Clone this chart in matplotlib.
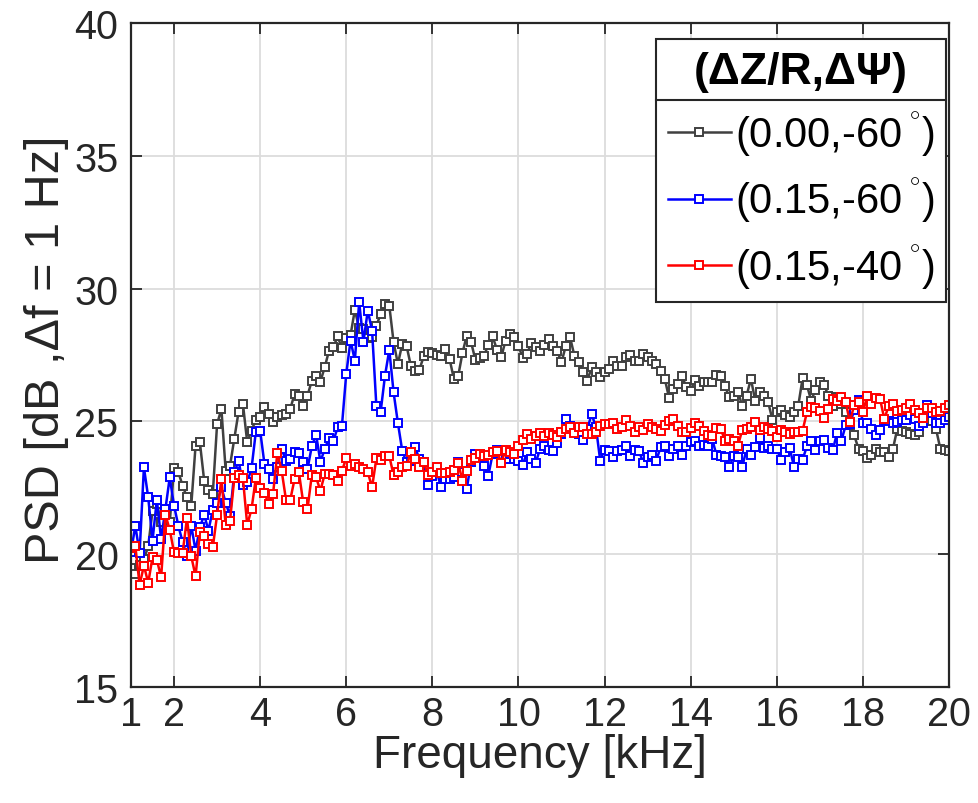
import numpy as np
import matplotlib
matplotlib.use("Agg")
import matplotlib.pyplot as plt
from matplotlib.lines import Line2D

plt.rcParams['font.family'] = ['Liberation Sans', 'DejaVu Sans']
plt.rcParams['mathtext.fontset'] = 'custom'
plt.rcParams['mathtext.rm'] = 'Liberation Sans'

# frequency grid, 0.1 kHz step from 1 to 20 kHz
freq_khz = np.round(np.arange(1.0, 20.05, 0.1), 1)

# (0.00,-60 deg)
psd_000_60 = [
    19.47, 19.25, 19.6, 19.8, 20.3, 21.64, 21.9, 21.2, 21.6, 21.2,
    23.23, 23.08, 22.58, 22.14, 21.83, 24.09, 24.21, 22.77, 22.43, 22.27,
    24.9, 25.47, 23.14, 23.33, 24.34, 25.37, 25.66, 24.21, 24.65, 25.07,
    25.15, 25.53, 25.28, 24.99, 25.15, 25.24, 25.28, 25.47, 26.03, 25.94,
    25.57, 25.97, 26.53, 26.72, 26.5, 27.04, 27.66, 27.79, 28.2, 27.75,
    28.13, 28.25, 29.2, 28.5, 28.48, 28.13, 28.17, 28.6, 29.04, 29.42,
    29.36, 27.98, 27.16, 27.91, 27.85, 27.1, 26.91, 26.95, 27.45, 27.6,
    27.58, 27.5, 27.45, 27.73, 27.35, 26.6, 26.7, 27.58, 28.23, 27.98,
    27.32, 27.37, 27.47, 27.88, 28.2, 27.7, 27.41, 28.04, 28.29, 28.16,
    27.85, 27.38, 27.55, 27.95, 27.79, 27.66, 27.88, 28.1, 27.83, 27.66,
    27.22, 27.85, 28.16, 27.47, 27.22, 26.87, 26.53, 27.04, 26.85, 26.66,
    26.85, 26.97, 27.29, 27.1, 27.1, 27.41, 27.5, 27.29, 27.29, 27.54,
    27.41, 27.29, 27.16, 26.91, 26.6, 25.87, 26.22, 26.41, 26.72, 26.28,
    26.16, 26.57, 26.35, 26.47, 26.5, 26.47, 26.75, 26.72, 26.32, 25.9,
    25.97, 26.12, 25.57, 25.97, 26.6, 25.78, 26.1, 25.97, 25.72, 25.07,
    25.34, 25.44, 25.24, 25.15, 25.36, 25.59, 26.62, 26.37, 25.78, 26.19,
    26.47, 26.37, 25.97, 25.59, 25.91, 25.66, 25.35, 24.85, 24.47, 23.97,
    23.88, 23.63, 23.72, 23.97, 23.84, 23.84, 23.67, 23.97, 24.72, 24.63,
    24.59, 24.53, 24.47, 24.59, 25.12, 25.09, 25.0, 24.71, 23.97, 23.93,
    23.9,
]

# (0.15,-60 deg)
psd_015_60 = [
    20.07, 21.07, 20.05, 23.27, 22.14, 20.51, 22.05, 20.57, 21.7, 22.89,
    21.83, 21.07, 20.45, 19.94, 21.07, 20.13, 21.01, 21.48, 20.89, 21.68,
    21.93, 22.52, 21.93, 21.45, 23.08, 23.52, 22.61, 22.71, 23.23, 24.61,
    24.65, 23.4, 23.21, 22.83, 23.3, 23.96, 23.52, 23.58, 23.86, 23.81,
    23.46, 23.21, 24.06, 24.5, 23.48, 23.96, 24.37, 24.25, 24.78, 24.83,
    26.79, 28.04, 27.29, 29.48, 28.0, 29.17, 28.42, 25.57, 25.37, 26.72,
    27.69, 26.09, 24.94, 23.9, 23.46, 23.52, 24.02, 23.58, 23.48, 22.61,
    22.96, 23.14, 22.52, 22.83, 22.83, 22.89, 23.46, 23.08, 22.46, 23.48,
    23.77, 23.71, 23.33, 22.96, 23.77, 23.94, 23.65, 23.58, 23.77, 23.58,
    23.52, 23.36, 23.84, 23.58, 23.43, 23.96, 24.06, 23.94, 23.9, 24.19,
    24.53, 25.09, 24.81, 24.71, 24.53, 24.31, 24.71, 25.28, 24.78, 23.52,
    23.94, 23.9, 23.65, 23.9, 23.94, 24.09, 23.71, 23.94, 23.9, 23.43,
    23.65, 23.73, 23.52, 24.02, 24.09, 23.69, 23.96, 24.06, 23.73, 24.09,
    24.24, 24.27, 24.09, 24.11, 24.09, 24.34, 23.73, 23.71, 23.65, 23.28,
    23.71, 23.65, 23.3, 23.96, 23.73, 24.02, 24.37, 24.0, 24.09, 23.96,
    23.97, 23.56, 23.84, 24.0, 23.3, 23.59, 23.56, 24.06, 24.26, 23.91,
    24.26, 24.31, 24.0, 23.91, 24.56, 24.26, 24.85, 24.89, 25.44, 25.82,
    24.94, 24.94, 24.72, 24.47, 24.69, 25.07, 25.02, 24.94, 24.98, 25.07,
    25.07, 25.24, 25.09, 24.84, 24.94, 25.6, 25.31, 24.94, 24.94, 25.07,
    25.15,
]

# (0.15,-40 deg)
psd_015_40 = [
    20.22, 20.32, 18.84, 19.57, 18.92, 19.88, 19.79, 19.13, 21.48, 20.92,
    20.07, 20.05, 20.05, 21.35, 19.92, 19.17, 20.82, 20.7, 20.38, 20.26,
    21.48, 22.83, 21.1, 21.26, 22.86, 22.98, 22.86, 21.1, 21.7, 22.86,
    22.5, 22.3, 21.89, 22.27, 23.81, 23.14, 22.05, 22.05, 22.83, 23.08,
    21.95, 21.7, 22.98, 22.89, 22.39, 23.02, 23.02, 22.98, 22.77, 23.14,
    23.61, 23.31, 23.4, 23.27, 23.21, 23.08, 22.52, 23.61, 23.56, 23.71,
    23.69, 22.98, 23.08, 23.27, 23.31, 23.84, 23.58, 23.27, 23.48, 22.98,
    23.08, 23.27, 23.06, 23.06, 23.08, 23.18, 23.43, 22.77, 23.14, 23.56,
    23.61, 23.77, 23.69, 23.73, 23.84, 23.9, 23.43, 23.93, 23.86, 23.77,
    24.09, 24.31, 24.53, 24.34, 24.44, 24.56, 24.44, 24.56, 24.49, 24.4,
    24.59, 24.71, 24.78, 24.56, 24.78, 24.78, 24.53, 24.53, 24.61, 24.84,
    24.9, 24.9, 24.94, 24.71, 24.78, 25.07, 24.81, 24.61, 24.78, 24.69,
    24.9, 24.78, 24.71, 24.65, 24.86, 25.03, 25.09, 24.81, 24.61, 24.61,
    24.74, 24.94, 24.81, 24.65, 24.49, 24.44, 24.74, 24.71, 24.27, 24.34,
    24.27, 24.09, 24.69, 24.71, 24.78, 24.99, 24.69, 24.78, 24.71, 24.65,
    24.4, 24.69, 24.59, 24.53, 24.59, 24.61, 24.65, 25.34, 25.53, 25.49,
    25.4, 25.12, 25.47, 25.84, 25.78, 25.91, 25.72, 24.99, 25.62, 25.72,
    25.34, 25.94, 25.66, 25.87, 25.84, 25.09, 25.59, 25.66, 25.4, 25.44,
    25.49, 25.66, 25.44, 25.32, 25.12, 25.49, 25.49, 25.34, 25.4, 25.49,
    25.62,
]

series_labels = [r'(0.00,-60$\,^{^{\circ}}$)', r'(0.15,-60$\,^{^{\circ}}$)',
                 r'(0.15,-40$\,^{^{\circ}}$)']
series_colors = ['#404040', '#0000ff', '#ff0000']
x_ticks = [1, 2, 4, 6, 8, 10, 12, 14, 16, 18, 20]
y_ticks = [15, 20, 25, 30, 35, 40]

fig = plt.figure(figsize=(9.79, 8.04), dpi=100)
ax = fig.add_axes([0.1338, 0.1443, 0.8355, 0.8259])

for vals, lab, col in zip([psd_000_60, psd_015_60, psd_015_40], series_labels, series_colors):
    ax.plot(freq_khz, vals, color=col, linewidth=1.8, marker='s', markersize=5.2,
            markerfacecolor='white', markeredgecolor=col, markeredgewidth=1.4, label=lab)

ax.set_xlim(1, 20)
ax.set_ylim(15, 40)
ax.set_xticks(x_ticks)
ax.set_yticks(y_ticks)
ax.grid(True, color='#dcdcdc', linewidth=1.3)
ax.set_axisbelow(True)
ax.tick_params(direction='in', length=8, width=1.3, top=True, right=True,
               labelsize=28.5, pad=6, colors='#262626')
ax.tick_params(axis='y', pad=9)
for sp in ax.spines.values():
    sp.set_linewidth(1.6)
    sp.set_color('#262626')

ax.set_xlabel('Frequency [kHz]', fontsize=33, color='#262626', labelpad=0)
ax.set_ylabel('PSD [dB ,\u0394f = 1 Hz]', fontsize=35, color='#262626')
ax.yaxis.set_label_coords(-0.076, 0.51)

leg = ax.legend(loc='upper right', bbox_to_anchor=(0.9963, 0.9759), borderaxespad=0,
                fontsize=30, handlelength=1.5, handletextpad=0.1, labelspacing=0.4,
                fancybox=False, framealpha=1, edgecolor='#262626', borderpad=0.28)
leg.get_frame().set_linewidth(1.5)
leg.set_title('(\u0394Z/R,\u0394\u03a8)', prop={'size': 32, 'weight': 'bold'})

# separator line under the legend title
fig.canvas.draw()
fb = leg.get_frame().get_window_extent()
tb = leg.get_title().get_window_extent()
inv = fig.transFigure.inverted()
ysep = tb.y0 - 8
(x0, y0) = inv.transform((fb.x0, ysep))
(x1, _) = inv.transform((fb.x1, ysep))
fig.add_artist(Line2D([x0, x1], [y0, y0], transform=fig.transFigure,
                      color='#262626', linewidth=1.5))

fig.savefig('out.png', dpi=100)
